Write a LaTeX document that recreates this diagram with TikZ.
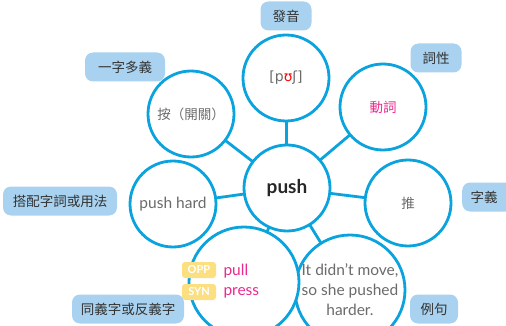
\documentclass[tikz,border=0pt]{standalone}
\usepackage{fontspec}
\setmainfont{Lato}
\newfontfamily\cjk{Noto Sans CJK TC}
\newfontfamily\dvs{DejaVu Sans}
\definecolor{ring}{HTML}{0AA3DD}
\definecolor{lab}{HTML}{A8D2EF}
\definecolor{txt}{HTML}{6B6B6B}
\definecolor{pinkc}{HTML}{EC2A8E}
\definecolor{tagc}{HTML}{FBDF80}
\begin{document}
\begin{tikzpicture}[x=1pt,y=-1pt,
  bub/.style={circle,draw=ring,line width=2.8pt,fill=white,minimum size=#1,inner sep=0pt,align=center,text=txt,font=\fontsize{15.5}{20}\selectfont},
  bub/.default=86pt,
  tag/.style={rounded corners=8pt,fill=lab,inner sep=0pt,minimum height=29pt,text=black!80,font=\cjk\fontsize{13.5}{16}\selectfont},
  tiny/.style={rounded corners=3pt,fill=tagc,text=white,font=\bfseries\fontsize{11}{12}\selectfont,minimum width=34pt,minimum height=16pt,inner sep=0pt},
  link/.style={draw=ring,line width=2.8pt}]
\useasboundingbox (0,0) rectangle (506,326);
% circles
\coordinate (cP) at (287,188);
\coordinate (cA) at (286,78);
\coordinate (cB) at (383,107);
\coordinate (cC) at (408,203);
\coordinate (cD) at (350,290);
\coordinate (cE) at (244,282);
\coordinate (cF) at (173,204);
\coordinate (cG) at (191,114);
\foreach \x in {A,B,C,D,E,F,G} \path[link] (cP) -- (c\x);
\node[bub] (pron) at (cA) {{\dvs\fontsize{14}{16}\selectfont[p\textcolor{red}{ʊ}ʃ]}};
\node[bub] (pos) at (cB) {\textcolor{pinkc}{\cjk\fontsize{13.5}{16}\selectfont 動詞}};
\node[bub] (mean) at (cC) {\cjk\fontsize{13.5}{16}\selectfont 推};
\node[bub=110pt] (ex) at (cD) {It didn’t move,\\so she pushed\\harder.};
\node[bub=110pt] (syn) at (cE) {};
\node[bub] (coll) at (cF) {push hard};
\node[bub] (multi) at (cG) {\cjk\fontsize{13.5}{16}\selectfont 按（開關）};
\node[bub] (push) at (cP) {\textcolor{black!85}{\bfseries\fontsize{19}{22}\selectfont push}};
% synonym content
\node[tiny] (opp) at (199,270) {OPP};
\node[tiny] (syt) at (199,292) {SYN};
\node[anchor=west,text=pinkc,font=\fontsize{15.5}{18}\selectfont] (pull) at (220,271) {pull};
\node[anchor=west,text=pinkc,font=\fontsize{15.5}{18}\selectfont] (press) at (220,293) {press};
% labels
\node[tag,minimum width=51pt] (l1) at (286,16) {發音};
\node[tag,minimum width=51pt] (l2) at (436,58) {詞性};
\node[tag,minimum width=80pt] (l3) at (125,67) {一字多義};
\node[tag,minimum width=56pt,anchor=west] (l4) at (462,197) {\hspace*{-12pt}字義};
\node[tag,minimum width=114pt] (l5) at (60,201) {搭配字詞或用法};
\node[tag,minimum width=112pt] (l6) at (128,309) {同義字或反義字};
\node[tag,minimum width=48pt] (l7) at (434,309) {例句};
\end{tikzpicture}
\end{document}
